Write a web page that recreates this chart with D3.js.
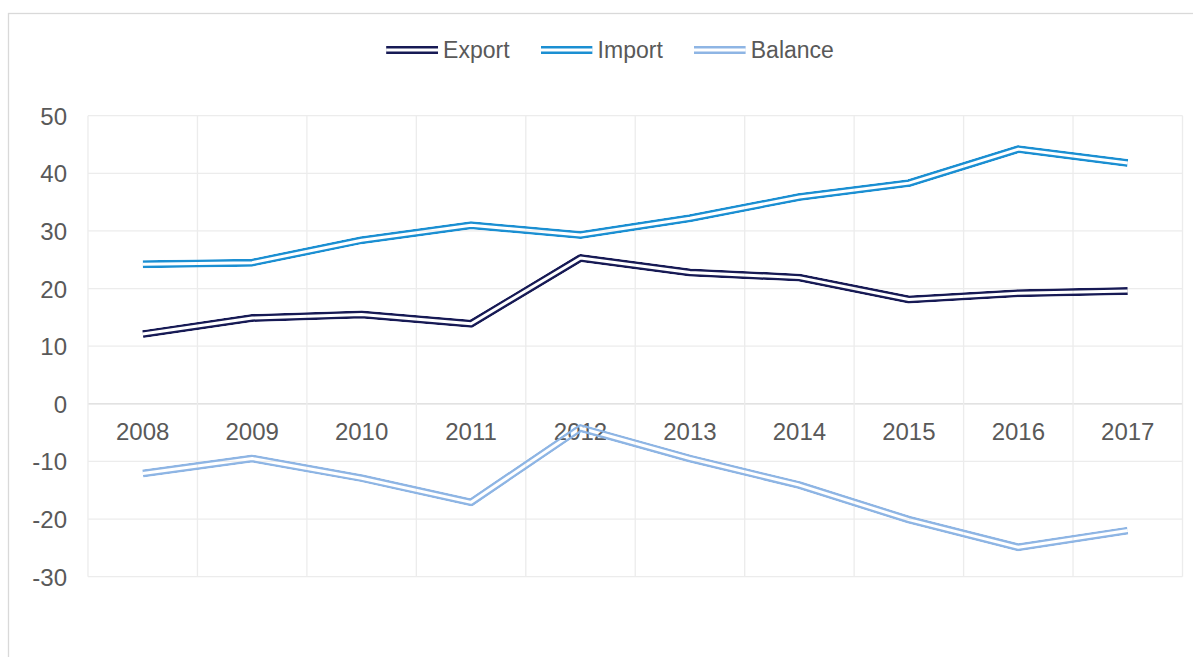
<!DOCTYPE html>
<html>
<head>
<meta charset="UTF-8">
<title>Export / Import / Balance</title>
<script src="https://d3js.org/d3.v7.min.js"></script>
<style>
  body { margin: 0; background: #fff; }
  text { font-family: "Liberation Sans", Arial, sans-serif; fill: #595959; }
</style>
</head>
<body>
<script>
// data
var years = ["2008","2009","2010","2011","2012","2013","2014","2015","2016","2017"];
var exportVals  = [12.1, 14.9, 15.5, 13.9, 25.3, 22.8, 21.9, 18.1, 19.2, 19.6];
var importVals  = [24.2, 24.5, 28.4, 31.0, 29.3, 32.2, 35.9, 38.3, 44.2, 41.8];
var balanceVals = [-12.1, -9.5, -12.9, -17.1, -4.2, -9.5, -14.1, -20.1, -24.9, -22.0];
var yTicks = [-30, -20, -10, 0, 10, 20, 30, 40, 50];
var seriesNames = ["Export", "Import", "Balance"];
var seriesColors = ["#171a55", "#1b8fd2", "#8eb5e4"];

var W = 1193, H = 657;
var plotL = 88, plotR = 1182.5, plotT = 115.7, plotB = 576.7;

var svg = d3.select("body").append("svg")
    .attr("width", W).attr("height", H);

// chart frame
svg.append("rect")
    .attr("x", 8.5).attr("y", 13.5)
    .attr("width", 1230).attr("height", 700)
    .attr("fill", "none").attr("stroke", "#d9d9d9").attr("stroke-width", 1.3);

var x = d3.scaleBand().domain(years).range([plotL, plotR]).padding(0);
var y = d3.scaleLinear().domain([-30, 50]).range([plotB, plotT]);

// gridlines
var grid = svg.append("g");
grid.selectAll(".hg").data(yTicks).enter().append("line")
    .attr("x1", plotL).attr("x2", plotR)
    .attr("y1", function(d) { return y(d); })
    .attr("y2", function(d) { return y(d); })
    .attr("stroke", function(d) { return d === 0 ? "#d9d9d9" : "#ececec"; })
    .attr("stroke-width", 1.3);

var edges = years.map(function(d) { return x(d); }).concat([plotR]);
grid.selectAll(".vg").data(edges).enter().append("line")
    .attr("x1", function(d) { return d; }).attr("x2", function(d) { return d; })
    .attr("y1", plotT).attr("y2", plotB)
    .attr("stroke", "#ececec").attr("stroke-width", 1.3);

// y axis labels
svg.append("g").selectAll("text").data(yTicks).enter().append("text")
    .attr("x", 67).attr("y", function(d) { return y(d) + 9; })
    .attr("text-anchor", "end").attr("font-size", 24)
    .text(function(d) { return d; });

// category labels, sitting under the zero line
svg.append("g").selectAll("text").data(years).enter().append("text")
    .attr("x", function(d) { return x(d) + x.bandwidth() / 2; })
    .attr("y", y(0) + 36)
    .attr("text-anchor", "middle").attr("font-size", 24)
    .text(function(d) { return d; });

// double lines: outer stroke masked by a thinner inner stroke
var defs = svg.append("defs");
var line = d3.line()
    .x(function(d, i) { return x(years[i]) + x.bandwidth() / 2; })
    .y(function(d) { return y(d); });

function doubleLine(g, id, d, color) {
  var m = defs.append("mask").attr("id", id)
      .attr("maskUnits", "userSpaceOnUse")
      .attr("x", 0).attr("y", 0).attr("width", W).attr("height", H);
  m.append("path").attr("d", d).attr("fill", "none")
      .attr("stroke", "#fff").attr("stroke-width", 8).attr("stroke-linejoin", "round");
  m.append("path").attr("d", d).attr("fill", "none")
      .attr("stroke", "#000").attr("stroke-width", 3).attr("stroke-linejoin", "round");
  g.append("path").attr("d", d).attr("fill", "none")
      .attr("stroke", color).attr("stroke-width", 8).attr("stroke-linejoin", "round")
      .attr("mask", "url(#" + id + ")");
}

var allVals = [exportVals, importVals, balanceVals];
var plot = svg.append("g");
allVals.forEach(function(vals, i) {
  doubleLine(plot, "m" + i, line(vals), seriesColors[i]);
});

// legend
var legend = svg.append("g");
var lx = 0;
seriesNames.forEach(function(name, i) {
  var it = legend.append("g").attr("transform", "translate(" + lx + ",0)");
  doubleLine(it, "lm" + i, "M0,50H52", seriesColors[i]);
  var t = it.append("text").attr("x", 57).attr("y", 58)
      .attr("font-size", 23).text(name);
  lx += 57 + t.node().getComputedTextLength() + 31;
});
var totalW = lx - 31;
legend.attr("transform", "translate(" + (610 - totalW / 2) + ",0)");
</script>
</body>
</html>
